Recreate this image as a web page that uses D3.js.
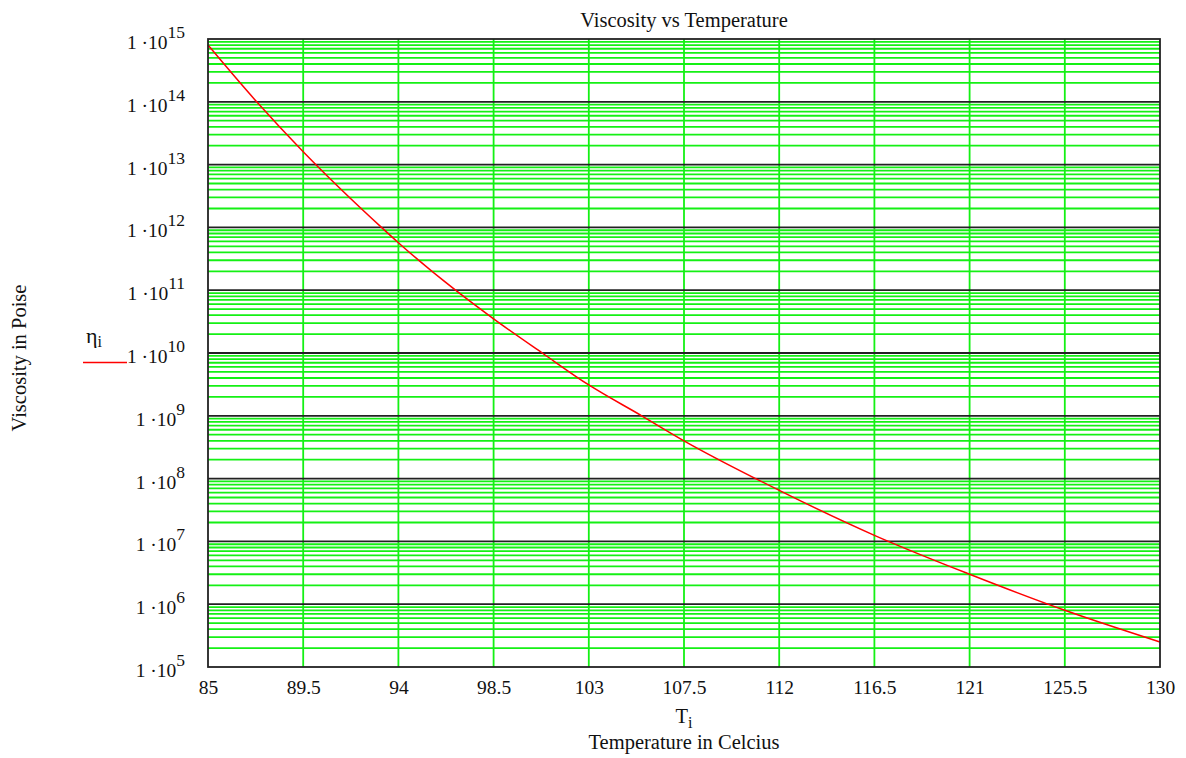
<!DOCTYPE html>
<html>
<head>
<meta charset="utf-8">
<script src="https://cdn.jsdelivr.net/npm/d3@7"></script>
<style>
  html, body { margin: 0; padding: 0; background: #fff; }
  svg { display: block; font-family: "Liberation Serif", "Times New Roman", serif; }
</style>
</head>
<body>
<svg id="chart" width="1186" height="758"></svg>
<script>
// ---- data ----
const temperatures = [85, 87.3, 89.5, 93.2, 94, 96.7, 98.5, 100.8, 103, 105.5, 107.5, 112, 116.5, 121, 125.5, 130];
const viscosities  = [8e14, 1e14, 1.6e13, 1e12, 5.7e11, 1e11, 3.5e10, 1e10, 3.1e9, 1e9, 4e8, 6.5e7, 1.25e7, 3e6, 8e5, 2.5e5];
const xTickValues  = [85, 89.5, 94, 98.5, 103, 107.5, 112, 116.5, 121, 125.5, 130];
const yExponents   = [5, 6, 7, 8, 9, 10, 11, 12, 13, 14, 15];
const chartTitle   = "Viscosity vs Temperature";
const xTitle       = "Temperature in Celcius";
const yTitle       = "Viscosity in Poise";

(function () {
const svg = d3.select("#chart");
const pL = 208, pR = 1160, pT = 39, pB = 667;
const FS = 20.5, TFS = 19.5;

const x = d3.scaleLinear().domain([85, 130]).range([pL, pR]);
const y = d3.scaleLog().domain([1e5, 1e15]).range([pB, pT]);

const data = temperatures.map((t, i) => ({ t, v: viscosities[i] }));

// minor grid (green)
const minors = [];
for (let k = 5; k < 15; k++) for (let m = 2; m <= 9; m++) minors.push(m * Math.pow(10, k));
const grid = svg.append("g");
grid.selectAll("line.minor").data(minors).enter().append("line")
  .attr("class", "minor")
  .attr("x1", pL).attr("x2", pR)
  .attr("y1", d => y(d)).attr("y2", d => y(d))
  .attr("stroke", "#14f014").attr("stroke-width", 1.8);

// vertical grid (green)
grid.selectAll("line.vert").data(xTickValues.slice(1, -1)).enter().append("line")
  .attr("class", "vert")
  .attr("x1", d => x(d)).attr("x2", d => x(d))
  .attr("y1", pT).attr("y2", pB)
  .attr("stroke", "#14f014").attr("stroke-width", 1.8);

// decade lines (black)
grid.selectAll("line.major").data(yExponents.slice(1, -1)).enter().append("line")
  .attr("class", "major")
  .attr("x1", pL).attr("x2", pR)
  .attr("y1", d => y(Math.pow(10, d))).attr("y2", d => y(Math.pow(10, d)))
  .attr("stroke", "#222").attr("stroke-width", 1.8);

// curve
const line = d3.line().x(d => x(d.t)).y(d => y(d.v)).curve(d3.curveMonotoneX);
svg.append("path").datum(data)
  .attr("d", line)
  .attr("fill", "none").attr("stroke", "#ff0000").attr("stroke-width", 1.5);

// border
svg.append("rect").attr("x", pL).attr("y", pT)
  .attr("width", pR - pL).attr("height", pB - pT)
  .attr("fill", "none").attr("stroke", "#222").attr("stroke-width", 1.8);

// x axis labels
const xAxis = d3.axisBottom(x).tickValues(xTickValues).tickSize(0).tickPadding(13)
  .tickFormat(d => String(d));
const gx = svg.append("g").attr("transform", `translate(0,${pB})`).call(xAxis);
gx.select(".domain").remove();
gx.selectAll("text").attr("font-size", TFS).attr("fill", "#111")
  .attr("font-family", "'Liberation Serif', 'Times New Roman', serif");

// y axis labels 1·10^k
const gy = svg.append("g");
const yl = gy.selectAll("text").data(yExponents).enter().append("text")
  .attr("x", 185).attr("y", d => y(Math.pow(10, d)) + 10)
  .attr("text-anchor", "end").attr("font-size", TFS).attr("fill", "#111");
yl.append("tspan").text("1 \u00b710");
yl.append("tspan").attr("dy", -11).attr("font-size", 17.5).text(d => String(d));

// title
svg.append("text").attr("x", (pL + pR) / 2).attr("y", 27)
  .attr("text-anchor", "middle").attr("font-size", FS).attr("fill", "#111")
  .text(chartTitle);

// x title: T_i and description
const ti = svg.append("text").attr("x", (pL + pR) / 2).attr("y", 723)
  .attr("text-anchor", "middle").attr("font-size", FS).attr("fill", "#111");
ti.append("tspan").text("T");
ti.append("tspan").attr("dy", 5).attr("font-size", 16).text("i");
svg.append("text").attr("x", (pL + pR) / 2).attr("y", 749)
  .attr("text-anchor", "middle").attr("font-size", FS).attr("fill", "#111")
  .text(xTitle);

// y title
svg.append("text").attr("transform", `translate(26,358) rotate(-90)`)
  .attr("text-anchor", "middle").attr("font-size", FS).attr("fill", "#111")
  .text(yTitle);

// legend
const lg = svg.append("text").attr("x", 86).attr("y", 343)
  .attr("font-size", 22).attr("fill", "#111");
lg.append("tspan").text("\u03b7");
lg.append("tspan").attr("dy", 4).attr("font-size", 16).text("i");
svg.append("line").attr("x1", 83).attr("x2", 127).attr("y1", 362.5).attr("y2", 362.5)
  .attr("stroke", "#ff0000").attr("stroke-width", 1.5);
})();
</script>
</body>
</html>
